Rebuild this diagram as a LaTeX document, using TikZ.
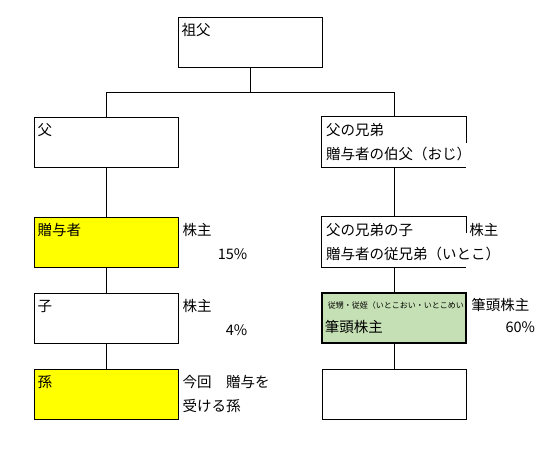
\documentclass[tikz,border=0pt]{standalone}
\usepackage{fontspec}
\setmainfont{Noto Sans CJK JP}
\usetikzlibrary{positioning}
\definecolor{giftyellow}{RGB}{255,255,0}
\definecolor{leadgreen}{RGB}{197,224,180}

\begin{document}
\begin{tikzpicture}[x=1pt,y=1pt,node distance=76pt]
            \tikzstyle{cell}=[rectangle,draw,line width=1pt,minimum width=144pt,minimum height=50pt,inner sep=0pt]
            \tikzstyle{opencell}=[rectangle,minimum width=144pt,minimum height=50pt,inner sep=0pt]
            \tikzstyle{lbl}=[anchor=west,inner sep=0pt,text height=12pt,text depth=2pt,font=\fontsize{14.5}{16}\selectfont]
            \tikzstyle{pct}=[lbl,anchor=east]
            \tikzstyle{tiny}=[lbl,text height=7pt,text depth=1pt,font=\fontsize{8}{9}\selectfont]
            \tikzstyle{link}=[line width=1pt]
            \useasboundingbox (0,0) rectangle (545,-450);
            \begin{scope}
            \node[cell](grandpa) at (250,-42){};
            \node[cell](father) at (106,-142){};
            \node[opencell](uncle) at (394,-142){};
            \node[cell,fill=giftyellow,below of=father,node distance=100pt](donor){};
            \node[cell,below of=donor](child){};
            \node[cell,fill=giftyellow,below of=child](grandson){};
            \node[opencell,below of=uncle,node distance=100pt](cousin){};
            \node[cell,fill=leadgreen,line width=2.5pt,below of=cousin](nephew){};
            \node[cell,below of=nephew](nextgen){};
            % open right edges where the text runs over
            \draw[link] ([yshift=-26pt]uncle.north east) -- (uncle.north east) -- (uncle.north west)
                -- (uncle.south west) -- (uncle.south east);
            \draw[link] ([yshift=-16pt]cousin.north east) -- (cousin.north east) -- (cousin.north west)
                -- (cousin.south west) -- (cousin.south east);
            \end{scope}
            \begin{scope}
            \draw[link] (grandpa.south) -- ++(0,-25) -| (father.north);
            \draw[link] (grandpa.south) -- ++(0,-25) -| (uncle.north);
            \draw[link] (father) -- (donor);
            \draw[link] (donor) -- (child);
            \draw[link] (child) -- (grandson);
            \draw[link] (uncle) -- (cousin);
            \draw[link] (cousin) -- (nephew);
            \draw[link] (nephew) -- (nextgen);
            \end{scope}
            % texts in the cells
            \node[lbl](tgrandpa) at ([shift={(4,-14)}]grandpa.north west){祖父};
            \node[lbl](tfather) at ([shift={(4,-14)}]father.north west){父};
            \node[lbl](tuncle) at ([shift={(4,-14)}]uncle.north west){父の兄弟};
            \node[lbl](tuncletwo) at ([shift={(4,-38)}]uncle.north west){贈与者の伯父（おじ）};
            \node[lbl](tdonor) at ([shift={(4,-14)}]donor.north west){贈与者};
            \node[lbl](tchild) at ([shift={(4,-14)}]child.north west){子};
            \node[lbl](tgrandson) at ([shift={(4,-14)}]grandson.north west){孫};
            \node[lbl](tcousin) at ([shift={(4,-14)}]cousin.north west){父の兄弟の子};
            \node[lbl](tcousintwo) at ([shift={(4,-38)}]cousin.north west){贈与者の従兄弟（いとこ）};
            \node[tiny](tnephew) at ([shift={(7,-14)}]nephew.north west){従甥・従姪（いとこおい・いとこめい};
            \node[lbl](tnephewtwo) at ([shift={(4,-36)}]nephew.north west){筆頭株主};
            % texts beside the cells
            \node[lbl](sdonor) at ([shift={(4,-14)}]donor.north east){株主};
            \node[pct](pdonor) at ([shift={(69,-38)}]donor.north east){15\%};
            \node[lbl](schild) at ([shift={(4,-14)}]child.north east){株主};
            \node[pct](pchild) at ([shift={(69,-38)}]child.north east){4\%};
            \node[lbl](sgrandson) at ([shift={(4,-14)}]grandson.north east){今回　贈与を};
            \node[lbl](sgrandsontwo) at ([shift={(4,-38)}]grandson.north east){受ける孫};
            \node[lbl](scousin) at ([shift={(3,-14)}]cousin.north east){株主};
            \node[lbl](snephew) at ([shift={(4,-14)}]nephew.north east){筆頭株主};
            \node[pct](pnephew) at ([shift={(68,-36)}]nephew.north east){60\%};
        \end{tikzpicture}
\end{document}
